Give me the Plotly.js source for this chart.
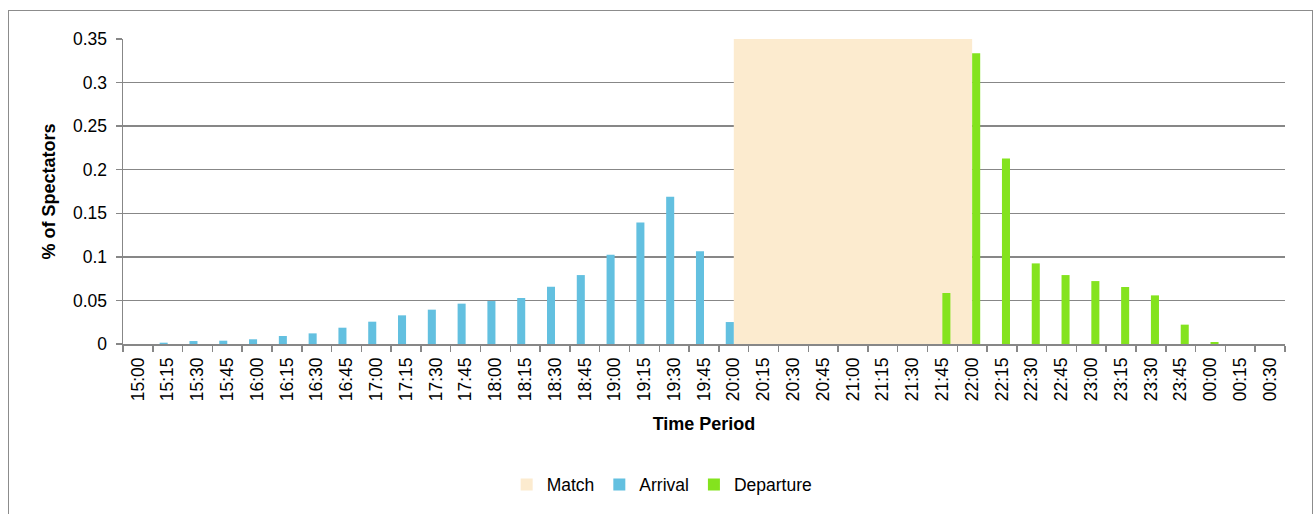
<!DOCTYPE html>
<html>
<head>
<meta charset="utf-8">
<script src="https://cdn.plot.ly/plotly-3.0.1.min.js"></script>
<style>
  html, body { margin: 0; padding: 0; background: #fff; overflow: hidden; }
  #chart { position: absolute; left: 0; top: 0; width: 1314px; height: 514px; }
  #frame { position: absolute; left: 8px; top: 10px; width: 1303px; height: 600px;
           border: 1.5px solid #8c8c8c; pointer-events: none; }
</style>
</head>
<body>
<div id="chart"></div>
<div id="frame"></div>
<script>
const categories = ['15:00','15:15','15:30','15:45','16:00','16:15','16:30','16:45',
  '17:00','17:15','17:30','17:45','18:00','18:15','18:30','18:45',
  '19:00','19:15','19:30','19:45','20:00','20:15','20:30','20:45',
  '21:00','21:15','21:30','21:45','22:00','22:15','22:30','22:45',
  '23:00','23:15','23:30','23:45','00:00','00:15','00:30'];

const arrivalTimes = ['15:15','15:30','15:45','16:00','16:15','16:30','16:45',
  '17:00','17:15','17:30','17:45','18:00','18:15','18:30','18:45',
  '19:00','19:15','19:30','19:45','20:00'];
const arrivalValues = [0.0015, 0.0034, 0.0038, 0.0054, 0.0092, 0.0122, 0.0187,
  0.0256, 0.0329, 0.0394, 0.0463, 0.0493, 0.0528, 0.0657, 0.0791,
  0.1024, 0.1395, 0.1690, 0.1063, 0.0252];

const departureTimes = ['21:45','22:00','22:15','22:30','22:45','23:00','23:15','23:30','23:45','00:00'];
const departureValues = [0.0585, 0.3337, 0.2129, 0.0925, 0.0791, 0.0722, 0.0654, 0.0558, 0.0222, 0.0023];

const matchStart = '20:00';
const matchEnd = '22:00';
const matchValue = 0.35;

const yTicks = [0, 0.05, 0.1, 0.15, 0.2, 0.25, 0.3, 0.35];

const FONT = 'Liberation Sans, Arial, sans-serif';
const GRID = '#878787';
const barW = 0.27;

const traces = [
  {
    type: 'bar', name: 'Match',
    x: [matchStart], y: [matchValue],
    offset: 0,
    width: categories.indexOf(matchEnd) - categories.indexOf(matchStart),
    marker: { color: '#FCEBCF' },
    hoverinfo: 'skip'
  },
  {
    type: 'bar', name: 'Arrival',
    x: arrivalTimes, y: arrivalValues,
    offset: -barW, width: barW,
    marker: { color: '#63C0E0' },
    hoverinfo: 'skip'
  },
  {
    type: 'bar', name: 'Departure',
    x: departureTimes, y: departureValues,
    offset: 0, width: barW,
    marker: { color: '#84E31E' },
    hoverinfo: 'skip'
  }
];

const layout = {
  width: 1314, height: 514,
  margin: { l: 123, r: 29, t: 39, b: 167 },
  paper_bgcolor: 'rgba(0,0,0,0)',
  plot_bgcolor: '#ffffff',
  barmode: 'overlay',
  font: { family: FONT, size: 17.5, color: '#000' },
  showlegend: true,
  legend: {
    orientation: 'h', x: 0.464, xanchor: 'center',
    y: -0.461, yanchor: 'middle',
    itemwidth: 30,
    font: { family: FONT, size: 17.5, color: '#000' },
    traceorder: 'normal'
  },
  xaxis: {
    type: 'category',
    categoryorder: 'array', categoryarray: categories,
    tickvals: categories, ticktext: categories,
    range: [-0.5, categories.length - 0.5],
    tickson: 'boundaries',
    ticks: 'outside', ticklen: 6, tickwidth: 1.5, tickcolor: GRID,
    ticklabelstandoff: 5,
    tickangle: -90,
    tickfont: { family: FONT, size: 17.5, color: '#000' },
    showline: true, linecolor: GRID, linewidth: 1.5,
    showgrid: false, zeroline: false,
    fixedrange: true,
    title: { text: 'Time Period', font: { family: FONT, size: 18, color: '#000', weight: 'bold' }, standoff: 17 }
  },
  yaxis: {
    range: [0, 0.35],
    tickvals: yTicks,
    ticktext: yTicks.map(v => String(v)),
    ticks: 'outside', ticklen: 6, tickwidth: 1.5, tickcolor: GRID,
    ticklabelstandoff: 5,
    tickfont: { family: FONT, size: 17.5, color: '#000' },
    showline: true, linecolor: GRID, linewidth: 1.5,
    showgrid: true, gridcolor: GRID, gridwidth: 1.5,
    zeroline: false,
    fixedrange: true,
    title: { text: '% of Spectators', font: { family: FONT, size: 18, color: '#000', weight: 'bold' }, standoff: 12 }
  }
};

Plotly.newPlot('chart', traces, layout, { displayModeBar: false, staticPlot: true });
</script>
</body>
</html>
